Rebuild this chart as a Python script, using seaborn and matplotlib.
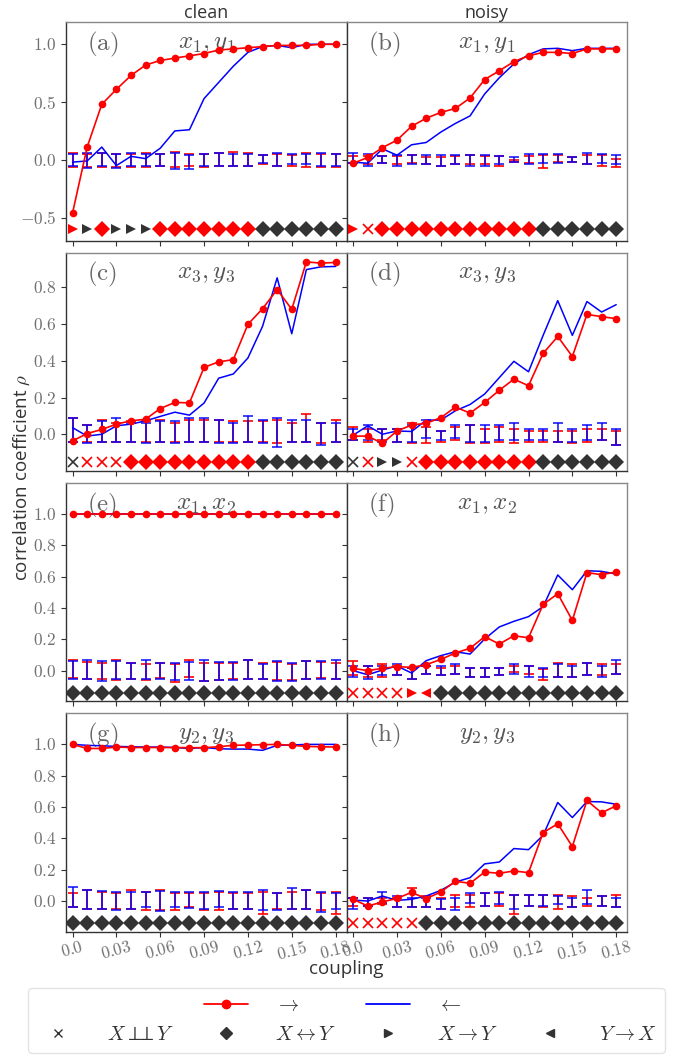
import numpy as np
import pandas as pd
import matplotlib
matplotlib.use("Agg")
import matplotlib.pyplot as plt
from matplotlib.lines import Line2D
import seaborn as sns

# ---------------- data ----------------
coupling = [0.00, 0.01, 0.02, 0.03, 0.04, 0.05, 0.06, 0.07, 0.08, 0.09,
            0.10, 0.11, 0.12, 0.13, 0.14, 0.15, 0.16, 0.17, 0.18]
xticks = [0.0, 0.03, 0.06, 0.09, 0.12, 0.15, 0.18]
xtick_labels = ["0.0", "0.03", "0.06", "0.09", "0.12", "0.15", "0.18"]
col_titles = ["clean", "noisy"]
panel_letters = ["(a)", "(b)", "(c)", "(d)", "(e)", "(f)", "(g)", "(h)"]
panel_pairs = [r"$x_1, y_1$", r"$x_1, y_1$", r"$x_3, y_3$", r"$x_3, y_3$",
               r"$x_1, x_2$", r"$x_1, x_2$", r"$y_2, y_3$", r"$y_2, y_3$"]

# forward (->) correlation, red
fwd_a = [-0.46, 0.11, 0.48, 0.61, 0.73, 0.82, 0.86, 0.88, 0.90, 0.92, 0.95, 0.96, 0.97, 0.98, 0.99, 0.99, 0.99, 1.0, 1.0]
fwd_b = [-0.03, 0.02, 0.105, 0.17, 0.29, 0.36, 0.41, 0.445, 0.535, 0.695, 0.77, 0.85, 0.90, 0.93, 0.93, 0.92, 0.96, 0.96, 0.96]
fwd_c = [-0.036, 0.004, 0.026, 0.055, 0.073, 0.082, 0.14, 0.173, 0.171, 0.364, 0.394, 0.406, 0.598, 0.683, 0.787, 0.68, 0.938, 0.931, 0.935]
fwd_d = [-0.01, -0.01, -0.05, 0.018, 0.05, 0.06, 0.09, 0.148, 0.115, 0.173, 0.239, 0.30, 0.264, 0.44, 0.532, 0.423, 0.652, 0.64, 0.629]
fwd_e = [1.0] * 19
fwd_f = [0.015, 0.0, 0.015, 0.026, 0.021, 0.038, 0.072, 0.113, 0.143, 0.217, 0.17, 0.223, 0.21, 0.423, 0.491, 0.321, 0.626, 0.613, 0.63]
fwd_g = [1.0, 0.974, 0.974, 0.983, 0.98, 0.98, 0.98, 0.98, 0.979, 0.979, 0.985, 0.994, 0.996, 0.998, 1.0, 0.994, 0.987, 0.985, 0.983]
fwd_h = [0.011, -0.032, -0.006, 0.017, 0.055, 0.015, 0.058, 0.126, 0.113, 0.185, 0.177, 0.192, 0.181, 0.437, 0.493, 0.348, 0.642, 0.563, 0.608]

# backward (<-) correlation, blue
bwd_a = [-0.02, -0.01, 0.11, -0.05, 0.03, 0.01, 0.10, 0.25, 0.26, 0.53, 0.67, 0.81, 0.93, 0.98, 0.99, 0.97, 1.0, 1.0, 1.0]
bwd_b = [-0.02, -0.03, 0.095, 0.04, 0.13, 0.15, 0.24, 0.315, 0.38, 0.57, 0.71, 0.83, 0.91, 0.96, 0.965, 0.945, 0.965, 0.965, 0.965]
bwd_c = [0.036, -0.01, 0.0, 0.046, 0.055, 0.073, 0.097, 0.12, 0.104, 0.17, 0.305, 0.328, 0.415, 0.587, 0.851, 0.547, 0.896, 0.911, 0.913]
bwd_d = [-0.005, 0.046, 0.0, 0.018, 0.015, 0.077, 0.077, 0.128, 0.162, 0.219, 0.308, 0.397, 0.34, 0.538, 0.727, 0.538, 0.722, 0.665, 0.705]
bwd_e = [1.0] * 19
bwd_f = [0.0, -0.026, 0.004, 0.03, -0.015, 0.064, 0.096, 0.121, 0.106, 0.202, 0.279, 0.315, 0.345, 0.409, 0.611, 0.517, 0.638, 0.634, 0.617]
bwd_g = [1.0, 0.994, 0.991, 0.987, 0.985, 0.983, 0.983, 0.98, 0.974, 0.98, 0.972, 0.97, 0.97, 0.962, 0.994, 0.996, 1.0, 1.0, 1.0]
bwd_h = [0.006, 0.0, 0.032, 0.004, 0.011, 0.032, 0.068, 0.121, 0.149, 0.237, 0.249, 0.335, 0.328, 0.42, 0.629, 0.533, 0.635, 0.633, 0.618]

# null intervals (lower / upper), forward (red)
fwd_lo_a = [-0.06, -0.06, -0.06, -0.06, -0.06, -0.06, -0.05, -0.06, -0.05, -0.06, -0.05, -0.05, -0.05, -0.04, -0.05, -0.05, -0.06, -0.06, -0.06]
fwd_hi_a = [0.06, 0.05, 0.06, 0.05, 0.05, 0.06, 0.05, 0.07, 0.05, 0.05, 0.06, 0.07, 0.06, 0.04, 0.05, 0.04, 0.06, 0.05, 0.05]
fwd_lo_b = [-0.03, -0.04, -0.03, -0.04, -0.03, -0.04, -0.05, -0.04, -0.04, -0.04, -0.05, -0.02, -0.03, -0.07, -0.02, -0.02, -0.04, -0.05, -0.06]
fwd_hi_b = [0.03, 0.03, 0.03, 0.03, 0.04, 0.02, 0.02, 0.03, 0.04, 0.03, 0.03, 0.0, 0.03, 0.04, 0.04, 0.02, 0.04, 0.04, 0.01]
fwd_lo_c = [-0.04, -0.04, -0.04, -0.04, -0.04, -0.04, -0.04, -0.04, -0.04, -0.04, -0.04, -0.04, -0.04, -0.04, -0.05, -0.04, -0.04, -0.05, -0.04]
fwd_hi_c = [0.09, 0.05, 0.08, 0.06, 0.07, 0.07, 0.08, 0.06, 0.08, 0.08, 0.08, 0.07, 0.07, 0.07, 0.08, 0.06, 0.11, 0.06, 0.08]
fwd_lo_d = [-0.03, -0.04, -0.03, -0.04, -0.05, -0.05, -0.04, -0.03, -0.05, -0.05, -0.04, -0.05, -0.04, -0.04, -0.04, -0.05, -0.04, -0.03, -0.06]
fwd_hi_d = [0.04, 0.03, 0.03, 0.03, 0.06, 0.04, 0.02, 0.04, 0.05, 0.03, 0.04, 0.03, 0.02, 0.02, 0.02, 0.02, 0.03, 0.03, 0.02]
fwd_lo_e = [-0.045, -0.055, -0.05, -0.06, -0.055, -0.06, -0.045, -0.07, -0.04, -0.065, -0.06, -0.05, -0.055, -0.055, -0.06, -0.06, -0.055, -0.045, -0.05]
fwd_hi_e = [0.065, 0.055, 0.05, 0.065, 0.05, 0.045, 0.05, 0.045, 0.065, 0.05, 0.05, 0.05, 0.07, 0.05, 0.055, 0.045, 0.06, 0.055, 0.05]
fwd_lo_f = [-0.03, -0.04, -0.04, -0.03, -0.05, -0.02, -0.03, -0.02, -0.04, -0.04, -0.03, -0.01, -0.02, -0.06, -0.04, -0.04, -0.03, -0.03, -0.02]
fwd_hi_f = [0.06, 0.03, 0.04, 0.03, 0.02, 0.03, 0.02, 0.03, 0.02, 0.02, 0.02, 0.03, 0.03, 0.01, 0.05, 0.04, 0.05, 0.04, 0.04]
fwd_lo_g = [-0.04, -0.05, -0.05, -0.05, -0.05, -0.06, -0.06, -0.06, -0.04, -0.06, -0.06, -0.05, -0.05, -0.08, -0.05, -0.05, -0.05, -0.06, -0.08]
fwd_hi_g = [0.05, 0.07, 0.06, 0.05, 0.07, 0.06, 0.07, 0.05, 0.05, 0.05, 0.06, 0.05, 0.05, 0.06, 0.05, 0.06, 0.07, 0.05, 0.06]
fwd_lo_h = [-0.03, -0.03, -0.02, -0.04, -0.04, -0.04, -0.05, -0.04, -0.04, -0.03, -0.03, -0.08, -0.03, -0.04, -0.05, -0.04, -0.03, -0.03, -0.04]
fwd_hi_h = [0.02, 0.02, 0.02, 0.02, 0.08, 0.03, 0.02, 0.04, 0.04, 0.05, 0.05, 0.04, 0.04, 0.04, 0.04, 0.03, 0.02, 0.03, 0.04]

# null intervals, backward (blue)
bwd_lo_a = [-0.05, -0.07, -0.05, -0.07, -0.05, -0.05, -0.05, -0.08, -0.08, -0.05, -0.05, -0.05, -0.05, -0.03, -0.05, -0.04, -0.04, -0.05, -0.05]
bwd_hi_a = [0.05, 0.06, 0.06, 0.05, 0.06, 0.05, 0.05, 0.06, 0.04, 0.05, 0.06, 0.05, 0.05, 0.04, 0.06, 0.05, 0.05, 0.06, 0.05]
bwd_lo_b = [-0.03, -0.05, -0.03, -0.05, -0.04, -0.04, -0.05, -0.04, -0.05, -0.05, -0.04, -0.02, -0.04, -0.03, -0.03, -0.02, -0.04, -0.03, -0.04]
bwd_hi_b = [0.06, 0.05, 0.03, 0.04, 0.04, 0.04, 0.04, 0.04, 0.04, 0.04, 0.03, 0.02, 0.05, 0.05, 0.05, 0.02, 0.06, 0.05, 0.04]
bwd_lo_c = [-0.04, -0.05, -0.04, -0.04, -0.04, -0.05, -0.04, -0.05, -0.04, -0.04, -0.05, -0.05, -0.04, -0.05, -0.07, -0.04, -0.04, -0.06, -0.04]
bwd_hi_c = [0.09, 0.05, 0.07, 0.09, 0.06, 0.06, 0.07, 0.07, 0.09, 0.09, 0.08, 0.06, 0.10, 0.08, 0.09, 0.08, 0.08, 0.06, 0.06]
bwd_lo_d = [-0.03, -0.03, -0.04, -0.04, -0.04, -0.02, -0.03, -0.02, -0.04, -0.04, -0.03, -0.03, -0.03, -0.03, -0.04, -0.04, -0.03, -0.03, -0.06]
bwd_hi_d = [0.03, 0.05, 0.03, 0.03, 0.05, 0.08, 0.02, 0.05, 0.05, 0.05, 0.05, 0.06, 0.03, 0.03, 0.06, 0.03, 0.05, 0.06, 0.03]
bwd_lo_e = [-0.05, -0.055, -0.065, -0.055, -0.05, -0.05, -0.05, -0.06, -0.06, -0.065, -0.06, -0.06, -0.05, -0.05, -0.065, -0.065, -0.055, -0.055, -0.055]
bwd_hi_e = [0.06, 0.065, 0.06, 0.06, 0.05, 0.065, 0.05, 0.05, 0.055, 0.065, 0.055, 0.055, 0.065, 0.045, 0.06, 0.05, 0.06, 0.06, 0.065]
bwd_lo_f = [-0.04, -0.05, -0.03, -0.03, -0.05, -0.02, -0.03, -0.02, -0.04, -0.04, -0.03, -0.02, -0.04, -0.04, -0.04, -0.04, -0.03, -0.04, -0.02]
bwd_hi_f = [0.03, 0.03, 0.03, 0.04, 0.02, 0.03, 0.03, 0.04, 0.02, 0.02, 0.02, 0.04, 0.03, 0.02, 0.04, 0.03, 0.05, 0.03, 0.07]
bwd_lo_g = [-0.04, -0.05, -0.05, -0.06, -0.05, -0.04, -0.065, -0.04, -0.045, -0.05, -0.04, -0.05, -0.05, -0.06, -0.055, -0.05, -0.05, -0.07, -0.05]
bwd_hi_g = [0.09, 0.07, 0.065, 0.06, 0.06, 0.06, 0.065, 0.06, 0.055, 0.06, 0.065, 0.06, 0.055, 0.07, 0.05, 0.08, 0.07, 0.055, 0.05]
bwd_lo_h = [-0.05, -0.03, -0.01, -0.04, -0.04, -0.04, -0.05, -0.06, -0.01, -0.03, -0.02, -0.05, -0.03, -0.03, -0.02, -0.04, -0.02, -0.03, -0.04]
bwd_hi_h = [0.02, 0.02, 0.06, 0.03, 0.02, 0.02, 0.01, 0.02, 0.05, 0.05, 0.06, 0.04, 0.04, 0.04, 0.03, 0.02, 0.07, 0.03, 0.02]

# inferred causal direction per coupling: x = independent, D = bidirectional,
# > = X->Y, < = Y->X ; colour code r = red, k = dark grey
cls_a = ">>D>>>DDDDDDDDDDDDD"
col_a = "rkrkkkrrrrrrrkkkkkk"
cls_b = ">xDDDDDDDDDDDDDDDDD"
col_b = "rrrrrrrrrrrrrkkkkkk"
cls_c = "xxxxDDDDDDDDDDDDDDD"
col_c = "krrrrrrrrrrrrkkkkkk"
cls_d = "xx>>xDDDDDDDDDDDDDD"
col_d = "krkkrrrrrrrrrkkkkkk"
cls_e = "DDDDDDDDDDDDDDDDDDD"
col_e = "kkkkkkkkkkkkkkkkkkk"
cls_f = "xxxx><DDDDDDDDDDDDD"
col_f = "rrrrrrkkkkkkkkkkkkk"
cls_g = "DDDDDDDDDDDDDDDDDDD"
col_g = "kkkkkkkkkkkkkkkkkkk"
cls_h = "xxxxxDDDDDDDDDDDDDD"
col_h = "rrrrrkkkkkkkkkkkkkk"

row_yticks = [[-0.5, 0.0, 0.5, 1.0], [0.0, 0.2, 0.4, 0.6, 0.8],
              [0.0, 0.2, 0.4, 0.6, 0.8, 1.0], [0.0, 0.2, 0.4, 0.6, 0.8, 1.0]]

panels = [
    (fwd_a, bwd_a, fwd_lo_a, fwd_hi_a, bwd_lo_a, bwd_hi_a, cls_a, col_a),
    (fwd_b, bwd_b, fwd_lo_b, fwd_hi_b, bwd_lo_b, bwd_hi_b, cls_b, col_b),
    (fwd_c, bwd_c, fwd_lo_c, fwd_hi_c, bwd_lo_c, bwd_hi_c, cls_c, col_c),
    (fwd_d, bwd_d, fwd_lo_d, fwd_hi_d, bwd_lo_d, bwd_hi_d, cls_d, col_d),
    (fwd_e, bwd_e, fwd_lo_e, fwd_hi_e, bwd_lo_e, bwd_hi_e, cls_e, col_e),
    (fwd_f, bwd_f, fwd_lo_f, fwd_hi_f, bwd_lo_f, bwd_hi_f, cls_f, col_f),
    (fwd_g, bwd_g, fwd_lo_g, fwd_hi_g, bwd_lo_g, bwd_hi_g, cls_g, col_g),
    (fwd_h, bwd_h, fwd_lo_h, fwd_hi_h, bwd_lo_h, bwd_hi_h, cls_h, col_h),
]

# ---------------- style ----------------
sns.set_theme(style="ticks")
plt.rcParams["font.family"] = ["Open Sans", "DejaVu Sans"]
plt.rcParams["mathtext.fontset"] = "cm"

RED = "#ff0000"
BLUE = "#0000ff"
DARK = "#333333"
GREY_TXT = "#707070"

row_ylim = [(-0.70, 1.19), (-0.20, 0.988), (-0.196, 1.198), (-0.196, 1.198)]
row_marker_y = [-0.60, -0.151, -0.143, -0.143]
marker_map = {"x": "x", "D": "D", ">": ">", "<": "<"}
msize = {"x": 7, "D": 8.5, ">": 7.5, "<": 7.5}

fig, axes = plt.subplots(4, 2, figsize=(6.78, 10.63), dpi=100,
                         sharex=True, sharey="row")
fig.subplots_adjust(left=0.0973, right=0.925, top=0.979, bottom=0.1235,
                    hspace=0.055, wspace=0.0)

x = np.array(coupling)
for i, ax in enumerate(axes.flat):
    r, c = divmod(i, 2)
    fwd, bwd, flo, fhi, blo, bhi, cls, cols = panels[i]
    fwd = np.array(fwd); bwd = np.array(bwd)
    flo = np.array(flo); fhi = np.array(fhi)
    blo = np.array(blo); bhi = np.array(bhi)

    # null intervals
    fm = (flo + fhi) / 2
    ax.errorbar(x, fm, yerr=[fm - flo, fhi - fm], fmt="none", ecolor=RED,
                elinewidth=1.4, capsize=3.8, capthick=1.4, alpha=0.85, zorder=2)
    bm = (blo + bhi) / 2
    ax.errorbar(x, bm, yerr=[bm - blo, bhi - bm], fmt="none", ecolor=BLUE,
                elinewidth=1.4, capsize=3.8, capthick=1.4, alpha=0.75, zorder=3)

    df = pd.DataFrame({"coupling": x, "fwd": fwd, "bwd": bwd})
    sns.lineplot(data=df, x="coupling", y="bwd", ax=ax, color=BLUE,
                 linewidth=1.1, zorder=4)
    sns.lineplot(data=df, x="coupling", y="fwd", ax=ax, color=RED,
                 linewidth=1.2, marker="o", markersize=5.5,
                 markeredgewidth=0, zorder=5)

    # causal markers
    my = row_marker_y[r]
    for j, (m, cc) in enumerate(zip(cls, cols)):
        color = RED if cc == "r" else DARK
        ax.plot(x[j], my, linestyle="none", marker=marker_map[m],
                markersize=msize[m], color=color,
                markeredgewidth=1.2 if m == "x" else 0, zorder=6)

    ax.set_xlim(-0.0045, 0.1875)
    ax.set_ylim(*row_ylim[r])
    ax.set_yticks(row_yticks[r])
    ax.set_yticklabels([f"${v:.1f}$" for v in row_yticks[r]])
    ax.set_xticks(xticks)
    ax.set_xticklabels([f"${t}$" for t in xtick_labels], rotation=15)
    ax.set_xlabel("")
    ax.set_ylabel("")
    ax.tick_params(axis="both", colors=DARK, labelcolor=GREY_TXT,
                   labelsize=12.5, length=3.5, width=0.8, direction="out")
    ax.tick_params(axis="x", labelsize=12, pad=2)
    for side in ["left", "bottom"]:
        ax.spines[side].set_color("#333333")
        ax.spines[side].set_linewidth(1.0)
    for side in ["top", "right"]:
        ax.spines[side].set_color("#888888")
        ax.spines[side].set_linewidth(1.0)

    ax.text(0.075, 0.965, r"$\mathrm{" + panel_letters[i] + "}$",
            transform=ax.transAxes, ha="left", va="top", fontsize=18,
            color="#666666")
    ax.text(0.5, 0.965, panel_pairs[i], transform=ax.transAxes,
            ha="center", va="top", fontsize=18, color="#555555")
    if r == 0:
        ax.set_title(col_titles[c], fontsize=13, color="#333333", pad=3)

for ax in axes[:, 1]:
    ax.tick_params(axis="y", labelleft=False)

fig.text(0.5 * (0.0973 + 0.925), 0.088, "coupling", ha="center", va="center",
         fontsize=13.5, color="#333333")
fig.text(0.032, 0.551, r"correlation coefficient $\rho$", ha="center",
         va="center", rotation=90, fontsize=13.5, color="#333333")

# legend
blank = Line2D([], [], linestyle="none", marker=None)
h_fwd = Line2D([], [], color=RED, linewidth=1.3, marker="o", markersize=6)
h_bwd = Line2D([], [], color=BLUE, linewidth=1.3)
h_ind = Line2D([], [], color=DARK, linestyle="none", marker="x", markersize=6, markeredgewidth=1.0)
h_bi = Line2D([], [], color=DARK, linestyle="none", marker="D", markersize=6)
h_xy = Line2D([], [], color=DARK, linestyle="none", marker=">", markersize=6)
h_yx = Line2D([], [], color=DARK, linestyle="none", marker="<", markersize=6)
handles = [blank, h_ind, h_fwd, h_bi, h_bwd, h_xy, blank, h_yx]
labels = ["", r"$X \perp\!\!\!\perp Y$", r"$\rightarrow$", r"$X \leftrightarrow Y$",
          r"$\leftarrow$", r"$X \rightarrow Y$", "", r"$Y \rightarrow X$"]
leg = fig.legend(handles, labels, ncol=4, loc="lower center",
                 bbox_to_anchor=(0.511, 0.0), fontsize=14.5, frameon=True,
                 handlelength=2.2, columnspacing=1.5, handletextpad=1.3,
                 labelspacing=0.45, borderpad=0.4)
leg.get_frame().set_edgecolor("#dddddd")
for t in leg.get_texts():
    t.set_color("#333333")

fig.savefig("out.png", dpi=100)
